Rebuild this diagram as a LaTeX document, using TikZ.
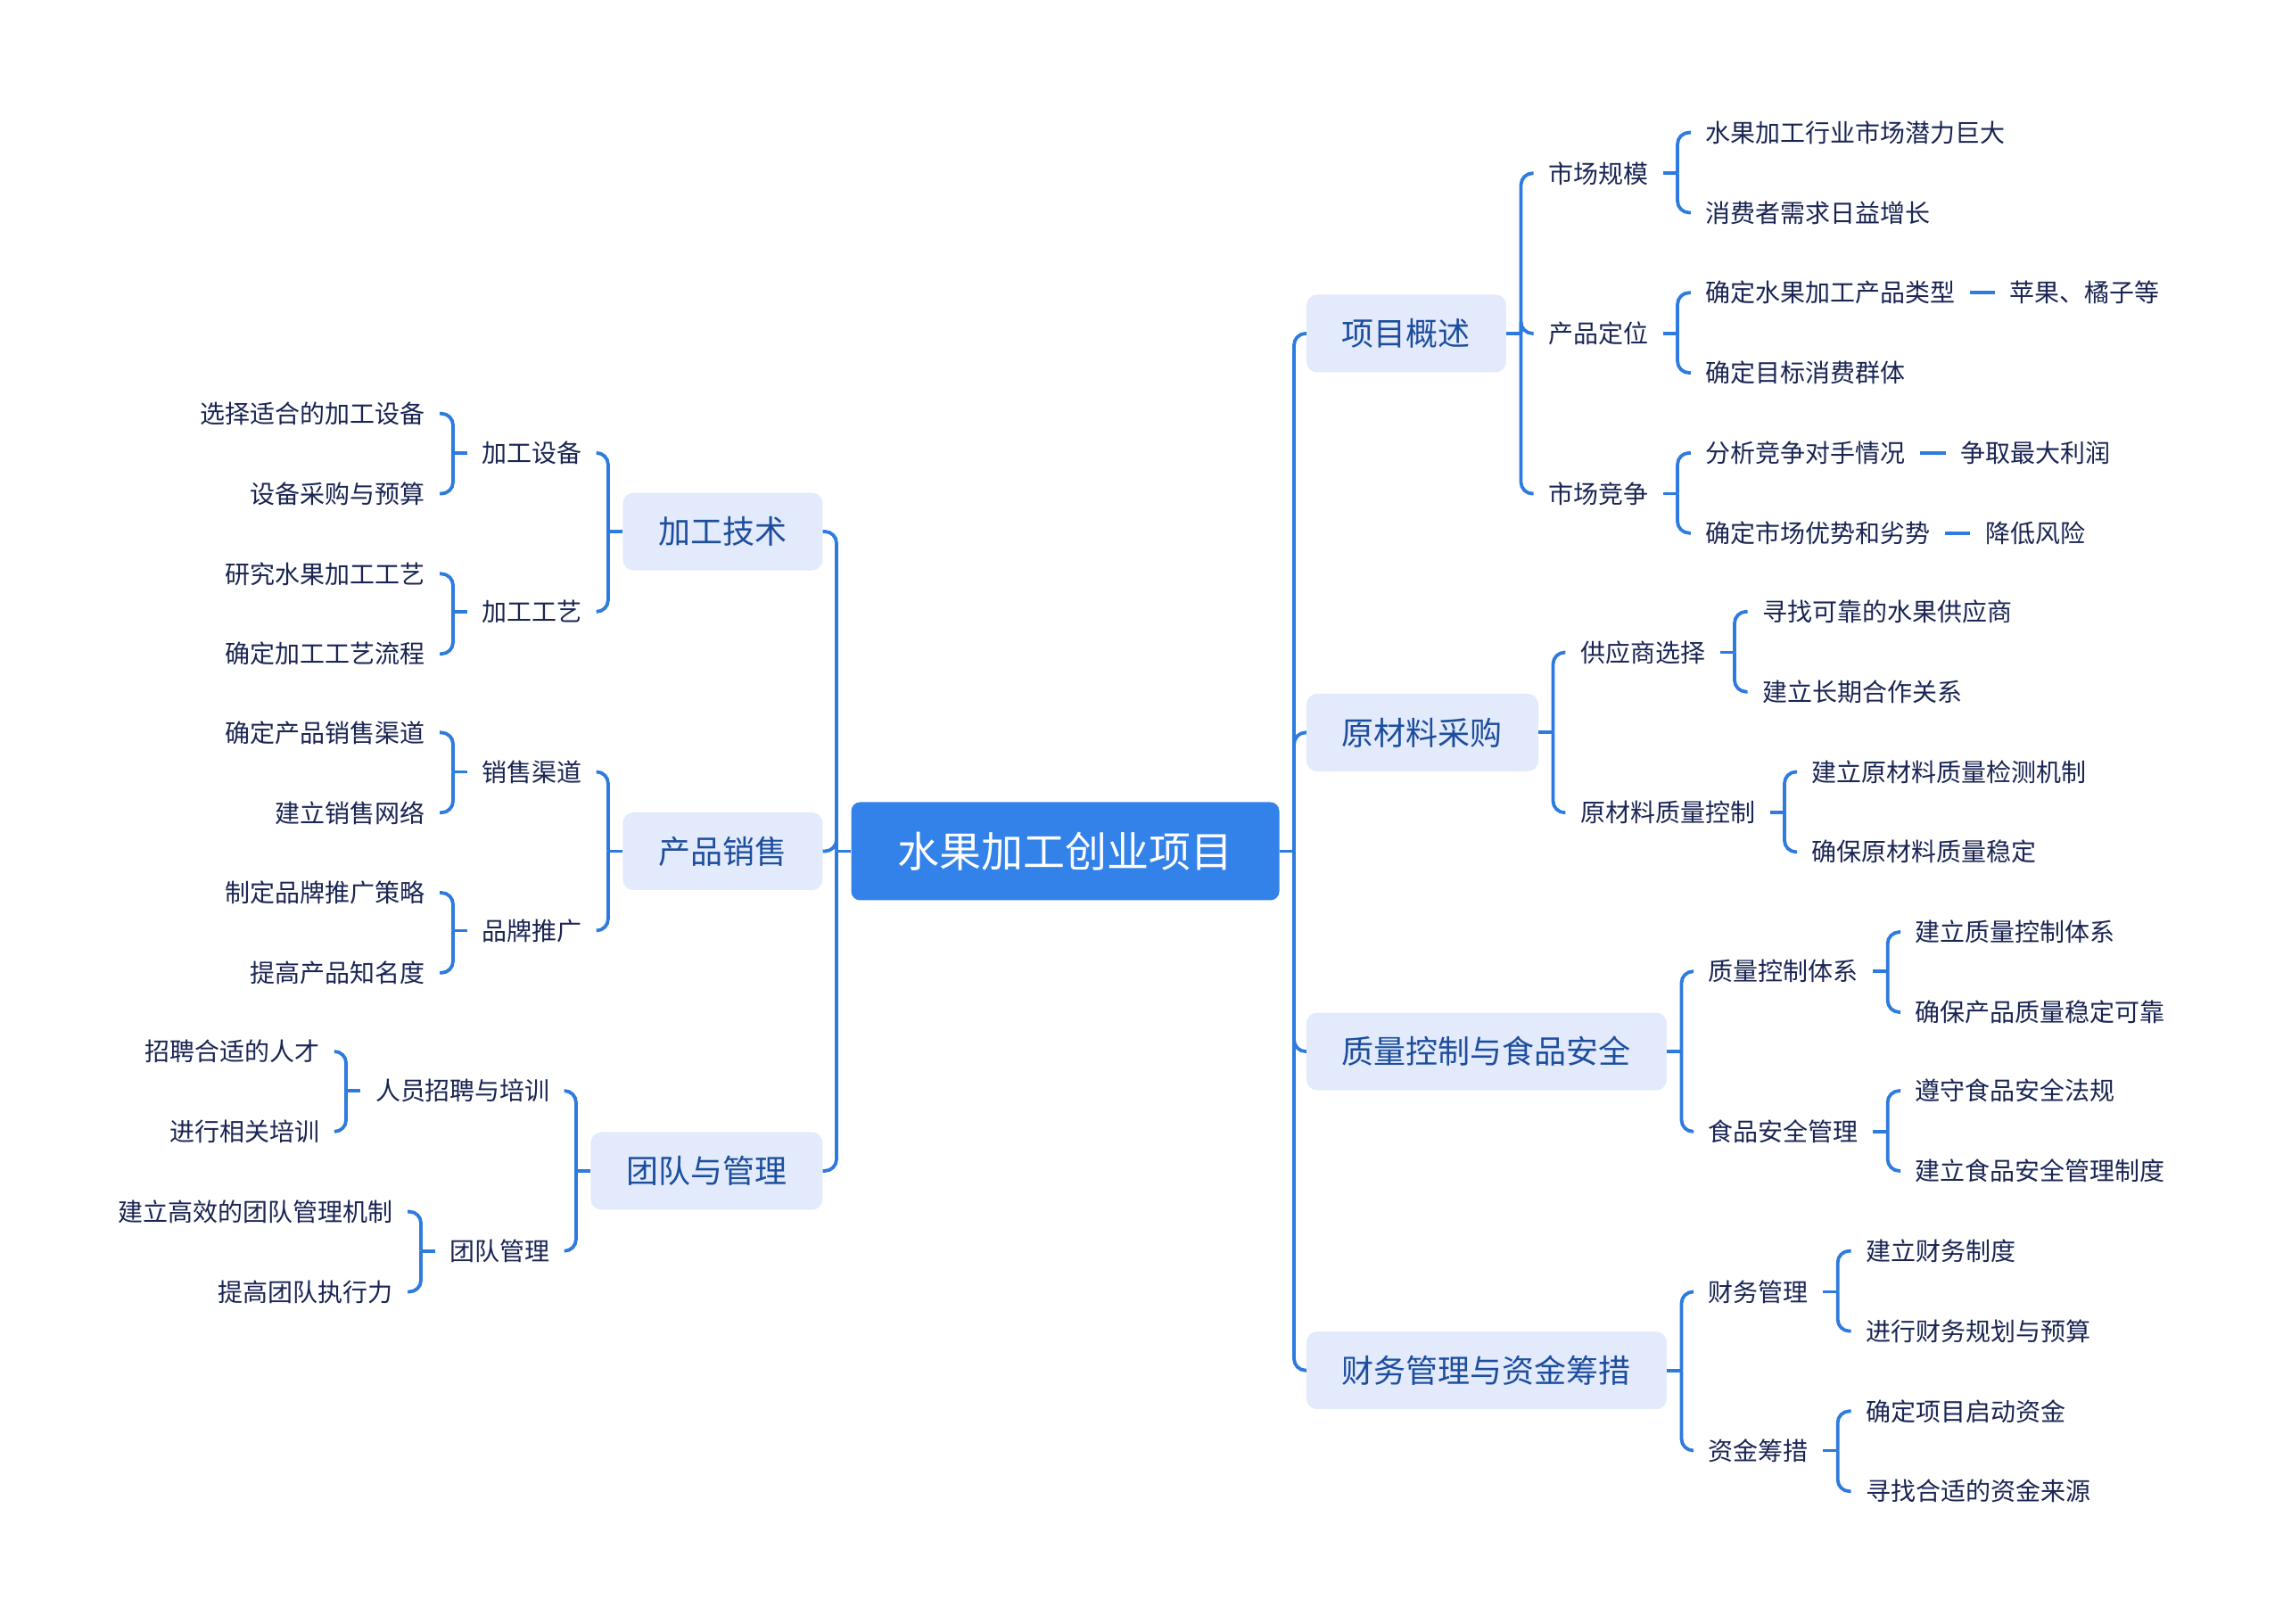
\documentclass[tikz,border=0pt]{standalone}
\usepackage{fontspec}
\setmainfont{Noto Sans CJK SC}
\usetikzlibrary{calc}
\definecolor{lc}{HTML}{2E7BDF}
\definecolor{rootc}{HTML}{3282EA}
\definecolor{boxc}{HTML}{E2EAFB}
\definecolor{maintc}{HTML}{1D4E9E}
\definecolor{leaftc}{HTML}{1A2553}
\tikzset{
  conn/.style={draw=lc, line width=3.8pt, rounded corners=13pt},
  rootbox/.style={fill=rootc, rounded corners=10pt, text=white, font=\fontsize{47}{47}\selectfont, minimum height=110pt, inner xsep=52pt, inner ysep=0pt},
  mainbox/.style={fill=boxc, rounded corners=12pt, text=maintc, font=\fontsize{36}{36}\selectfont, minimum height=87pt, inner xsep=40pt, inner ysep=0pt},
  leaf/.style={text=leaftc, font=\fontsize{28}{28}\selectfont, inner xsep=16.4pt, inner ysep=2pt},
  lr/.style={leaf, anchor=west},
  ll/.style={leaf, anchor=east},
}
\newcommand\grpR[2]{%
  \draw[conn] (#1.east) -- ++(10,0) coordinate (#1t);
  \foreach \c in {#2} \draw[conn] (#1t) |- (\c.west);
}
\newcommand\grpL[2]{%
  \draw[conn] (#1.west) -- ++(-10,0) coordinate (#1t);
  \foreach \c in {#2} \draw[conn] (#1t) |- (\c.east);
}
\begin{document}
\begin{tikzpicture}[x=1.633pt, y=-1.633pt]
\useasboundingbox (0,0) rectangle (1567.7,1115.1);
\fill[white] (0,0) rectangle (1567.7,1115.1);

% root
\node[rootbox] (root) at (731.5,584.5) {水果加工创业项目};

% right main boxes
\node[mainbox, anchor=west] (b1) at (897,229) {项目概述};
\node[mainbox, anchor=west] (b2) at (897,503) {原材料采购};
\node[mainbox, anchor=west] (b3) at (897,722) {质量控制与食品安全};
\node[mainbox, anchor=west] (b4) at (897,941) {财务管理与资金筹措};

% left main boxes
\node[mainbox, anchor=east] (a1) at (565,365) {加工技术};
\node[mainbox, anchor=east] (a2) at (565,584.5) {产品销售};
\node[mainbox, anchor=east] (a3) at (565,804) {团队与管理};

% right leaves: b1
\node[lr] (r11) at (1053,119) {市场规模};
\node[lr] (r12) at (1053,229) {产品定位};
\node[lr] (r13) at (1053,339) {市场竞争};
\node[lr] (r111) at (1161,91) {水果加工行业市场潜力巨大};
\node[lr] (r112) at (1161,146) {消费者需求日益增长};
\node[lr] (r121) at (1161,201) {确定水果加工产品类型};
\node[lr] (r1211) at (1370,201) {苹果、橘子等};
\node[lr] (r122) at (1161,256) {确定目标消费群体};
\node[lr] (r131) at (1161,311) {分析竞争对手情况};
\node[lr] (r1311) at (1336,311) {争取最大利润};
\node[lr] (r132) at (1161,366) {确定市场优势和劣势};
\node[lr] (r1321) at (1353,366) {降低风险};
% b2
\node[lr] (r21) at (1075,448) {供应商选择};
\node[lr] (r22) at (1075,558) {原材料质量控制};
\node[lr] (r211) at (1200,420) {寻找可靠的水果供应商};
\node[lr] (r212) at (1200,475) {建立长期合作关系};
\node[lr] (r221) at (1234,530) {建立原材料质量检测机制};
\node[lr] (r222) at (1234,585) {确保原材料质量稳定};
% b3
\node[lr] (r31) at (1163,667) {质量控制体系};
\node[lr] (r32) at (1163,777) {食品安全管理};
\node[lr] (r311) at (1305,640) {建立质量控制体系};
\node[lr] (r312) at (1305,695) {确保产品质量稳定可靠};
\node[lr] (r321) at (1305,749) {遵守食品安全法规};
\node[lr] (r322) at (1305,804) {建立食品安全管理制度};
% b4
\node[lr] (r41) at (1163,887) {财务管理};
\node[lr] (r42) at (1163,996) {资金筹措};
\node[lr] (r411) at (1271,859) {建立财务制度};
\node[lr] (r412) at (1271,914) {进行财务规划与预算};
\node[lr] (r421) at (1271,969) {确定项目启动资金};
\node[lr] (r422) at (1271,1024) {寻找合适的资金来源};

% left leaves: a1
\node[ll] (l11) at (410,311) {加工设备};
\node[ll] (l12) at (410,420) {加工工艺};
\node[ll] (l111) at (302,284) {选择适合的加工设备};
\node[ll] (l112) at (302,339) {设备采购与预算};
\node[ll] (l121) at (302,394) {研究水果加工工艺};
\node[ll] (l122) at (302,449) {确定加工工艺流程};
% a2
\node[ll] (l21) at (410,530) {销售渠道};
\node[ll] (l22) at (410,639) {品牌推广};
\node[ll] (l211) at (302,503) {确定产品销售渠道};
\node[ll] (l212) at (302,558) {建立销售网络};
\node[ll] (l221) at (302,613) {制定品牌推广策略};
\node[ll] (l222) at (302,668) {提高产品知名度};
% a3
\node[ll] (l31) at (388,749) {人员招聘与培训};
\node[ll] (l32) at (388,859) {团队管理};
\node[ll] (l311) at (230,722) {招聘合适的人才};
\node[ll] (l312) at (230,777) {进行相关培训};
\node[ll] (l321) at (280,832) {建立高效的团队管理机制};
\node[ll] (l322) at (280,887) {提高团队执行力};

% connectors
\grpR{root}{b1,b2,b3,b4}
\grpL{root}{a1,a2,a3}
\grpR{b1}{r11,r12,r13}
\grpR{b2}{r21,r22}
\grpR{b3}{r31,r32}
\grpR{b4}{r41,r42}
\grpR{r11}{r111,r112}
\grpR{r12}{r121,r122}
\grpR{r13}{r131,r132}
\grpR{r21}{r211,r212}
\grpR{r22}{r221,r222}
\grpR{r31}{r311,r312}
\grpR{r32}{r321,r322}
\grpR{r41}{r411,r412}
\grpR{r42}{r421,r422}
\draw[conn] (r121.east) -- (r1211.west);
\draw[conn] (r131.east) -- (r1311.west);
\draw[conn] (r132.east) -- (r1321.west);
\grpL{a1}{l11,l12}
\grpL{a2}{l21,l22}
\grpL{a3}{l31,l32}
\grpL{l11}{l111,l112}
\grpL{l12}{l121,l122}
\grpL{l21}{l211,l212}
\grpL{l22}{l221,l222}
\grpL{l31}{l311,l312}
\grpL{l32}{l321,l322}
\end{tikzpicture}
\end{document}
